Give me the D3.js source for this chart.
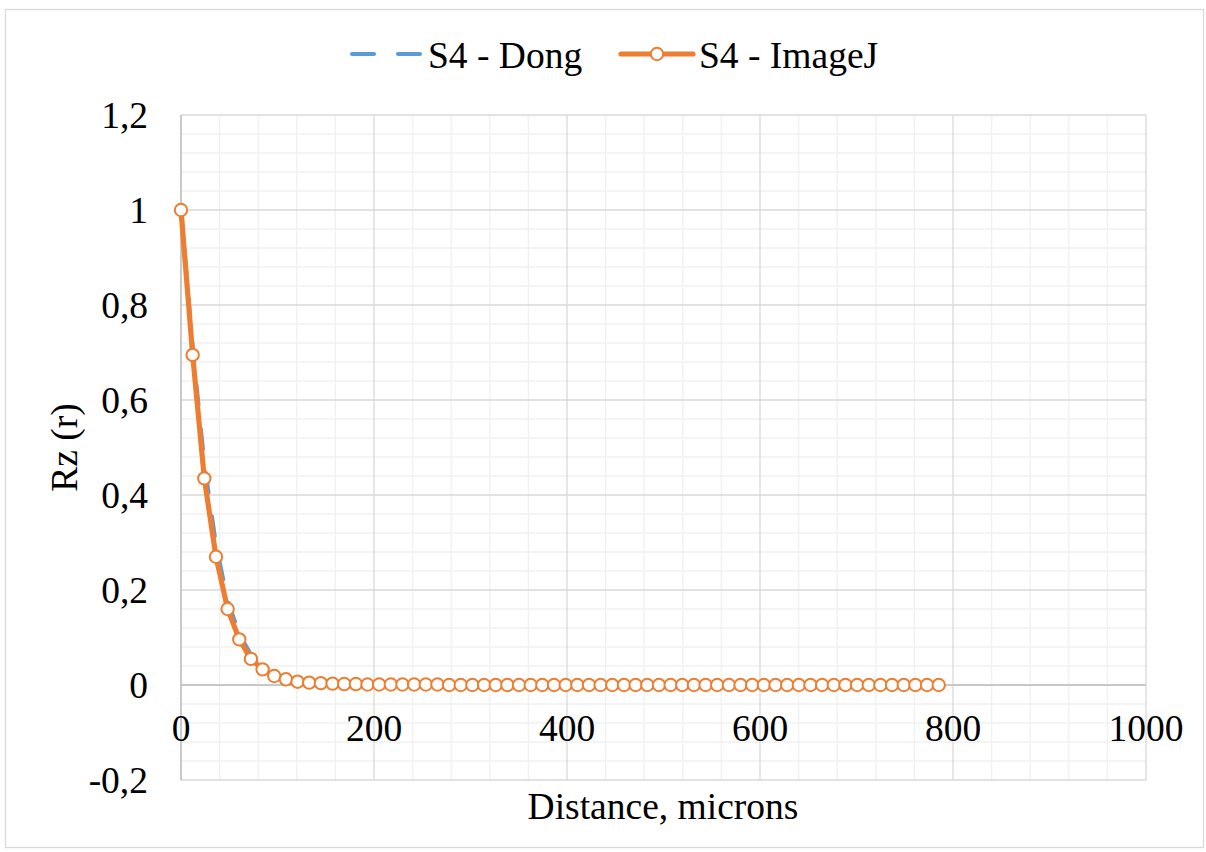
<!DOCTYPE html>
<html>
<head>
<meta charset="utf-8">
<script src="https://cdn.jsdelivr.net/npm/d3@7"></script>
<style>
  html, body { margin: 0; padding: 0; background: #fff; }
  svg { display: block; }
</style>
</head>
<body>
<svg id="chart" width="1206" height="852" font-family="'Liberation Serif', 'Times New Roman', Times, 'DejaVu Serif', serif"></svg>
<script>
// Distance from the centre (microns), sampled every ~12.08 µm
const distance = [
  0, 12.08, 24.16, 36.24, 48.32, 60.4, 72.48, 84.56, 96.64, 108.72,
  120.8, 132.88, 144.96, 157.04, 169.12, 181.2, 193.28, 205.36, 217.44, 229.52,
  241.6, 253.68, 265.76, 277.84, 289.92, 302, 314.08, 326.16, 338.24, 350.32,
  362.4, 374.48, 386.56, 398.64, 410.72, 422.8, 434.88, 446.96, 459.04, 471.12,
  483.2, 495.28, 507.36, 519.44, 531.52, 543.6, 555.68, 567.76, 579.84, 591.92,
  604, 616.08, 628.16, 640.24, 652.32, 664.4, 676.48, 688.56, 700.64, 712.72,
  724.8, 736.88, 748.96, 761.04, 773.12, 785.2
];

// Rz(r) autocorrelation, ImageJ
const imagejRz = [
  1.000, 0.695, 0.435, 0.270, 0.160, 0.096, 0.055, 0.033, 0.019, 0.012,
  0.007, 0.005, 0.004, 0.003, 0.002, 0.002, 0.001, 0.001, 0.001, 0.001,
  0.001, 0.001, 0.001, 0.000, 0.000, 0.000, 0.000, 0.000, 0.000, 0.000,
  0.000, 0.000, 0.000, 0.000, 0.000, 0.000, 0.000, 0.000, 0.000, 0.000,
  0.000, 0.000, 0.000, 0.000, 0.000, 0.000, 0.000, 0.000, 0.000, 0.000,
  0.000, 0.000, 0.000, 0.000, 0.000, 0.000, 0.000, 0.000, 0.000, 0.000,
  0.000, 0.000, 0.000, 0.000, 0.000, 0.000
];

// Rz(r) autocorrelation, Dong
const dongRz = [
  1.000, 0.712, 0.468, 0.296, 0.178, 0.107, 0.064, 0.038, 0.022, 0.013,
  0.008, 0.005, 0.003, 0.002, 0.001, 0.001, 0.001, 0.000, 0.000, 0.000,
  0.000, 0.000, 0.000, 0.000, 0.000, 0.000, 0.000, 0.000, 0.000, 0.000,
  0.000, 0.000, 0.000, 0.000, 0.000, 0.000, 0.000, 0.000, 0.000, 0.000,
  0.000, 0.000, 0.000, 0.000, 0.000, 0.000, 0.000, 0.000, 0.000, 0.000,
  0.000, 0.000, 0.000, 0.000, 0.000, 0.000, 0.000, 0.000, 0.000, 0.000,
  0.000, 0.000, 0.000, 0.000, 0.000, 0.000
];

const seriesNames = ["S4 - Dong", "S4 - ImageJ"];
const xTicks = [0, 200, 400, 600, 800, 1000];
const yTicks = [-0.2, 0, 0.2, 0.4, 0.6, 0.8, 1, 1.2];
const xTitle = "Distance, microns";
const yTitle = "Rz (r)";

const svg = d3.select("#chart");
const W = 1206, H = 852;
const plot = { left: 181, right: 1146, top: 115, bottom: 780 };
const FS = 37.5;

const x = d3.scaleLinear().domain([0, 1000]).range([plot.left, plot.right]);
const y = d3.scaleLinear().domain([-0.2, 1.2]).range([plot.bottom, plot.top]);

// decimal comma, plain hyphen for negatives
const fmt = v => String(+v.toFixed(1)).replace(".", ",");

// outer chart frame
svg.append("rect")
  .attr("x", 5.5).attr("y", 9.5)
  .attr("width", W - 8).attr("height", H - 14)
  .attr("fill", "#fff").attr("stroke", "#d9d9d9").attr("stroke-width", 1.3);

const grid = svg.append("g");

// minor gridlines
const xMinor = d3.range(0, 1000 + 1e-9, 40).filter(v => v % 200 !== 0);
const yMinor = d3.range(-0.2, 1.2 + 1e-9, 0.04).filter(v => Math.abs(Math.round(v * 5) - v * 5) > 1e-6);
grid.selectAll(".xminor").data(xMinor).join("line")
  .attr("x1", d => x(d)).attr("x2", d => x(d))
  .attr("y1", plot.top).attr("y2", plot.bottom)
  .attr("stroke", "#f0f0f0").attr("stroke-width", 1.3);
grid.selectAll(".yminor").data(yMinor).join("line")
  .attr("x1", plot.left).attr("x2", plot.right)
  .attr("y1", d => y(d)).attr("y2", d => y(d))
  .attr("stroke", "#f0f0f0").attr("stroke-width", 1.3);

// major gridlines
grid.selectAll(".xmajor").data(xTicks).join("line")
  .attr("x1", d => x(d)).attr("x2", d => x(d))
  .attr("y1", plot.top).attr("y2", plot.bottom)
  .attr("stroke", "#d9d9d9").attr("stroke-width", 1.3);
grid.selectAll(".ymajor").data(yTicks).join("line")
  .attr("x1", plot.left).attr("x2", plot.right)
  .attr("y1", d => y(d)).attr("y2", d => y(d))
  .attr("stroke", "#d9d9d9").attr("stroke-width", 1.3);

// axis lines: vertical at x = 0, horizontal at y = 0
svg.append("line")
  .attr("x1", x(0)).attr("x2", x(0)).attr("y1", plot.top).attr("y2", plot.bottom)
  .attr("stroke", "#bfbfbf").attr("stroke-width", 1.5);
svg.append("line")
  .attr("x1", plot.left).attr("x2", plot.right).attr("y1", y(0)).attr("y2", y(0))
  .attr("stroke", "#bfbfbf").attr("stroke-width", 1.5);

// tick labels
svg.append("g").selectAll("text").data(yTicks).join("text")
  .attr("x", 148).attr("y", d => y(d) + 12.5)
  .attr("text-anchor", "end").attr("font-size", FS)
  .text(d => fmt(d));
svg.append("g").selectAll("text").data(xTicks).join("text")
  .attr("x", d => x(d)).attr("y", y(0) + 56)
  .attr("text-anchor", "middle").attr("font-size", FS)
  .text(d => d);

// axis titles
svg.append("text")
  .attr("x", 663).attr("y", 819)
  .attr("text-anchor", "middle").attr("font-size", FS)
  .text(xTitle);
svg.append("text")
  .attr("transform", `translate(77, ${(plot.top + plot.bottom) / 2}) rotate(-90)`)
  .attr("text-anchor", "middle").attr("font-size", FS)
  .text(yTitle);

const blue = "#5b9bd5", orange = "#ed7d31";
const line = d3.line().x(d => x(d[0])).y(d => y(d[1]));

const dongPts = distance.map((d, i) => [d, dongRz[i]]);
const imgPts = distance.map((d, i) => [d, imagejRz[i]]);

svg.append("path").datum(dongPts)
  .attr("d", line).attr("fill", "none")
  .attr("stroke", blue).attr("stroke-width", 4)
  .attr("stroke-dasharray", "20,24").attr("stroke-linecap", "round");

svg.append("path").datum(imgPts)
  .attr("d", line).attr("fill", "none")
  .attr("stroke", orange).attr("stroke-width", 5.2)
  .attr("stroke-linejoin", "round");

svg.append("g").selectAll("circle").data(imgPts).join("circle")
  .attr("cx", d => x(d[0])).attr("cy", d => y(d[1])).attr("r", 6.2)
  .attr("fill", "#fff").attr("stroke", orange).attr("stroke-width", 2);

// legend
const leg = svg.append("g");
leg.append("line").attr("x1", 352).attr("x2", 422).attr("y1", 54).attr("y2", 54)
  .attr("stroke", blue).attr("stroke-width", 4)
  .attr("stroke-dasharray", "22,24").attr("stroke-linecap", "round");
leg.append("text").attr("x", 428).attr("y", 67.5).attr("font-size", FS).text(seriesNames[0]);
leg.append("line").attr("x1", 621).attr("x2", 693).attr("y1", 54).attr("y2", 54)
  .attr("stroke", orange).attr("stroke-width", 5.2).attr("stroke-linecap", "round");
leg.append("circle").attr("cx", 657).attr("cy", 54).attr("r", 6.2)
  .attr("fill", "#fff").attr("stroke", orange).attr("stroke-width", 2);
leg.append("text").attr("x", 699).attr("y", 67.5).attr("font-size", FS).text(seriesNames[1]);
</script>
</body>
</html>
